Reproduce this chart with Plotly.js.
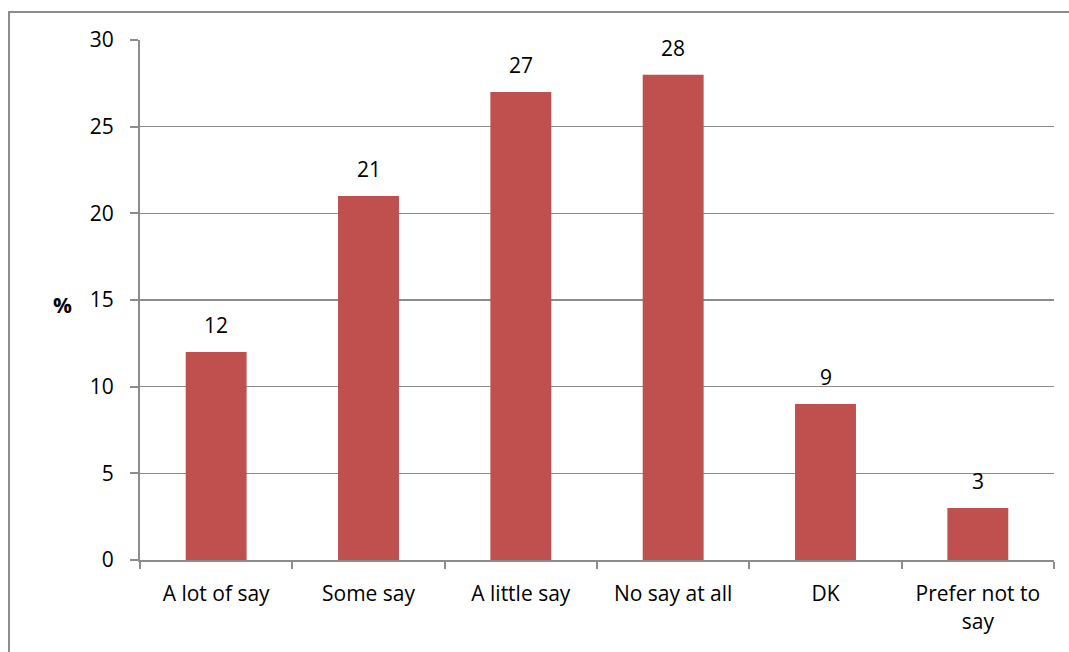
<!DOCTYPE html>
<html><head><meta charset="utf-8">
<script src="https://cdn.plot.ly/plotly-3.0.1.min.js"></script>
<style>
html,body{margin:0;padding:0;background:#fff;}
#wrap{position:relative;width:1069px;height:652px;overflow:hidden;}
#chart{position:absolute;left:0;top:0;width:1069px;height:652px;}
#frame{position:absolute;left:8px;top:11px;width:1080px;height:700px;border:2px solid #8c8c8c;box-sizing:border-box;pointer-events:none;}
</style></head>
<body><div id="wrap"><div id="chart"></div><div id="frame"></div></div>
<script>
const categories = ["A lot of say","Some say","A little say","No say at all","DK","Prefer not to<br>say"];
const values = [12,21,27,28,9,3];
const yTicks = [0,5,10,15,20,25,30];

const font = "Open Sans, Noto Sans, sans-serif";
const fs = 21;
Plotly.newPlot('chart', [{
  type:'bar', x:categories, y:values,
  marker:{color:'#C0504D'},
  hoverinfo:'skip'
}], {
  width:1069, height:652,
  margin:{l:140,r:15,t:40,b:92},
  paper_bgcolor:'#fff', plot_bgcolor:'#fff',
  bargap:0.6,
  showlegend:false,
  font:{family:font,size:fs,color:'#000'},
  xaxis:{type:'category', tickson:'boundaries', ticks:'outside', ticklen:7, tickcolor:'#8c8c8c', tickwidth:2,
    showline:true, linecolor:'#8c8c8c', linewidth:2, showgrid:false, tickfont:{family:font,size:fs,color:'#000'},
    ticklabelstandoff:14},
  yaxis:{range:[0,30], tickvals:yTicks, ticks:'outside', ticklen:8, tickcolor:'#8c8c8c', tickwidth:2,
    showline:true, linecolor:'#8c8c8c', linewidth:2, showgrid:true, gridcolor:'#8c8c8c', gridwidth:1.5,
    zeroline:false, tickfont:{family:font,size:fs,color:'#000'}, ticklabelstandoff:12},
  annotations:[{text:'<b>%</b>', xref:'paper', yref:'paper', x:-0.085, y:0.49, xanchor:'center', yanchor:'middle', showarrow:false, font:{family:font,size:fs,color:'#000'}}]
    .concat(categories.map((c,i)=>({x:c, y:values[i], text:String(values[i]), xref:'x', yref:'y', showarrow:false,
      yanchor:'middle', yshift:27, font:{family:font,size:fs,color:'#000'}})))
}, {displayModeBar:false, staticPlot:true});
</script></body></html>
